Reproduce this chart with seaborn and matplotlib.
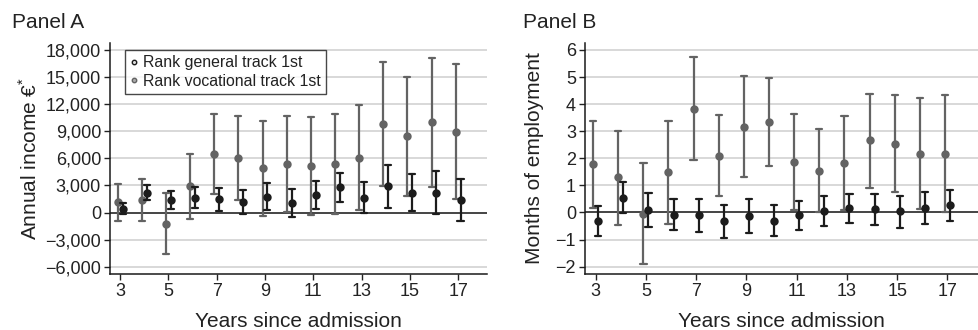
import numpy as np
import pandas as pd
import matplotlib
matplotlib.use("Agg")
import matplotlib.pyplot as plt
from matplotlib.lines import Line2D
from matplotlib.ticker import FuncFormatter
import seaborn as sns

years = [3, 4, 5, 6, 7, 8, 9, 10, 11, 12, 13, 14, 15, 16, 17]

# Panel A: annual income (EUR)
inc_gen = [406, 2214, 1439, 1661, 1476, 1218, 1734, 1107, 1956, 2804, 1624, 2915, 2214, 2214, 1402]
inc_gen_lo = [-148, 1365, 443, 480, 221, -111, 258, -480, 406, 1181, -74, 554, 185, -185, -923]
inc_gen_hi = [1033, 3026, 2435, 2841, 2731, 2546, 3247, 2620, 3506, 4428, 3395, 5240, 4244, 4576, 3727]
inc_voc = [1144, 1400, -1255, 2990, 6495, 6089, 4908, 5387, 5166, 5387, 6089, 9815, 8450, 10037, 8967]
inc_voc_lo = [-885, -885, -4613, -700, 2066, 1400, -332, 110, -258, -148, 295, 2989, 1845, 2878, 1476]
inc_voc_hi = [3170, 3730, 2214, 6530, 10886, 10738, 10148, 10664, 10590, 10959, 11882, 16642, 15055, 17159, 16494]

# Panel B: months of employment
emp_gen = [-0.30, 0.54, 0.09, -0.09, -0.11, -0.32, -0.15, -0.30, -0.11, 0.06, 0.15, 0.12, 0.05, 0.17, 0.26]
emp_gen_lo = [-0.86, -0.02, -0.55, -0.65, -0.71, -0.93, -0.77, -0.86, -0.64, -0.49, -0.39, -0.45, -0.57, -0.41, -0.32]
emp_gen_hi = [0.25, 1.11, 0.70, 0.50, 0.48, 0.28, 0.48, 0.26, 0.44, 0.59, 0.68, 0.68, 0.61, 0.74, 0.81]
emp_voc = [1.77, 1.29, -0.04, 1.48, 3.82, 2.10, 3.17, 3.34, 1.87, 1.52, 1.82, 2.66, 2.53, 2.16, 2.16]
emp_voc_lo = [0.15, -0.45, -1.91, -0.42, 1.92, 0.59, 1.29, 1.71, 0.09, 0.02, 0.09, 0.92, 0.74, 0.12, 0.00]
emp_voc_hi = [3.36, 3.02, 1.82, 3.37, 5.73, 3.60, 5.05, 4.98, 3.64, 3.07, 3.55, 4.37, 4.34, 4.22, 4.34]

GEN = "Rank general track 1st"
VOC = "Rank vocational track 1st"
C_GEN = "#1c1c1c"
C_VOC = "#636363"

def long_df(gen, gen_lo, gen_hi, voc, voc_lo, voc_hi):
    rows = []
    for i, y in enumerate(years):
        for v in (gen_lo[i], gen[i], gen_hi[i]):
            rows.append((y, GEN, v))
        for v in (voc_lo[i], voc[i], voc_hi[i]):
            rows.append((y, VOC, v))
    return pd.DataFrame(rows, columns=["year", "group", "value"])

dfA = long_df(inc_gen, inc_gen_lo, inc_gen_hi, inc_voc, inc_voc_lo, inc_voc_hi)
dfB = long_df(emp_gen, emp_gen_lo, emp_gen_hi, emp_voc, emp_voc_lo, emp_voc_hi)

sns.set_theme(style="white")
plt.rcParams["font.family"] = ["Liberation Sans", "DejaVu Sans"]
plt.rcParams["text.color"] = "#222222"
plt.rcParams["axes.labelcolor"] = "#222222"
plt.rcParams["xtick.color"] = "#222222"
plt.rcParams["ytick.color"] = "#222222"
plt.rcParams["mathtext.fontset"] = "custom"
plt.rcParams["mathtext.rm"] = "Liberation Sans"

fig = plt.figure(figsize=(9.79, 3.30), dpi=100)
axA = fig.add_axes([0.1124, 0.170, 0.3851, 0.700])
axB = fig.add_axes([0.5976, 0.170, 0.4010, 0.700])

def draw(ax, df):
    sns.pointplot(data=df, x="year", y="value", hue="group",
                  hue_order=[VOC, GEN], palette={GEN: C_GEN, VOC: C_VOC},
                  estimator="median", errorbar=("pi", 100),
                  native_scale=True, dodge=0.2, linestyle="none",
                  markers="o", markersize=4.0, capsize=0.25,
                  err_kws={"linewidth": 1.6}, legend=False, ax=ax)
    ax.axhline(0, color="#3a3a3a", linewidth=1.3, zorder=1)
    ax.grid(axis="y", color="#d2d2d2", linewidth=1.2, zorder=0)
    ax.set_axisbelow(True)
    ax.set_xlim(2.58, 18.2)
    ax.set_xticks([3, 5, 7, 9, 11, 13, 15, 17])
    ax.set_xlabel("Years since admission", fontsize=15, labelpad=9)
    for s in ["top", "right"]:
        ax.spines[s].set_visible(False)
    for s in ["left", "bottom"]:
        ax.spines[s].set_color("#1a1a1a")
        ax.spines[s].set_linewidth(1.1)
    ax.tick_params(axis="both", which="both", direction="out", length=4,
                   width=1.0, labelsize=13, left=True, bottom=True, pad=2.5)

draw(axA, dfA)
axA.set_ylim(-6800, 18800)
axA.set_yticks(np.arange(-6000, 18001, 3000))
axA.yaxis.set_major_formatter(FuncFormatter(
    lambda v, p: f"{v:,.0f}".replace("-", "\u2212")))
axA.set_ylabel("Annual income €$^{*}$", fontsize=15, labelpad=3)

handles = [
    Line2D([], [], marker="o", linestyle="none", markersize=3.2,
           markerfacecolor="#dddddd", markeredgecolor=C_GEN, markeredgewidth=1.0),
    Line2D([], [], marker="o", linestyle="none", markersize=3.2,
           markerfacecolor="#aaaaaa", markeredgecolor=C_VOC, markeredgewidth=1.0),
]
leg = axA.legend(handles, [GEN, VOC], loc="upper left",
                 bbox_to_anchor=(0.04, 0.97), borderaxespad=0,
                 fontsize=11.4, frameon=True, fancybox=False,
                 handlelength=0.4, handletextpad=0.35, borderpad=0.35,
                 labelspacing=0.2)
leg.get_frame().set_edgecolor("#1a1a1a")
leg.get_frame().set_linewidth(1.0)

draw(axB, dfB)
axB.set_ylim(-2.27, 6.26)
axB.set_yticks(np.arange(-2, 7, 1))
axB.yaxis.set_major_formatter(FuncFormatter(
    lambda v, p: f"{v:.0f}".replace("-", "\u2212")))
axB.set_ylabel("Months of employment", fontsize=15, labelpad=8)

fig.text(0.012, 0.933, "Panel A", fontsize=15, ha="left", va="center")
fig.text(0.534, 0.933, "Panel B", fontsize=15, ha="left", va="center")

fig.savefig("out.png", dpi=100, facecolor="white")
